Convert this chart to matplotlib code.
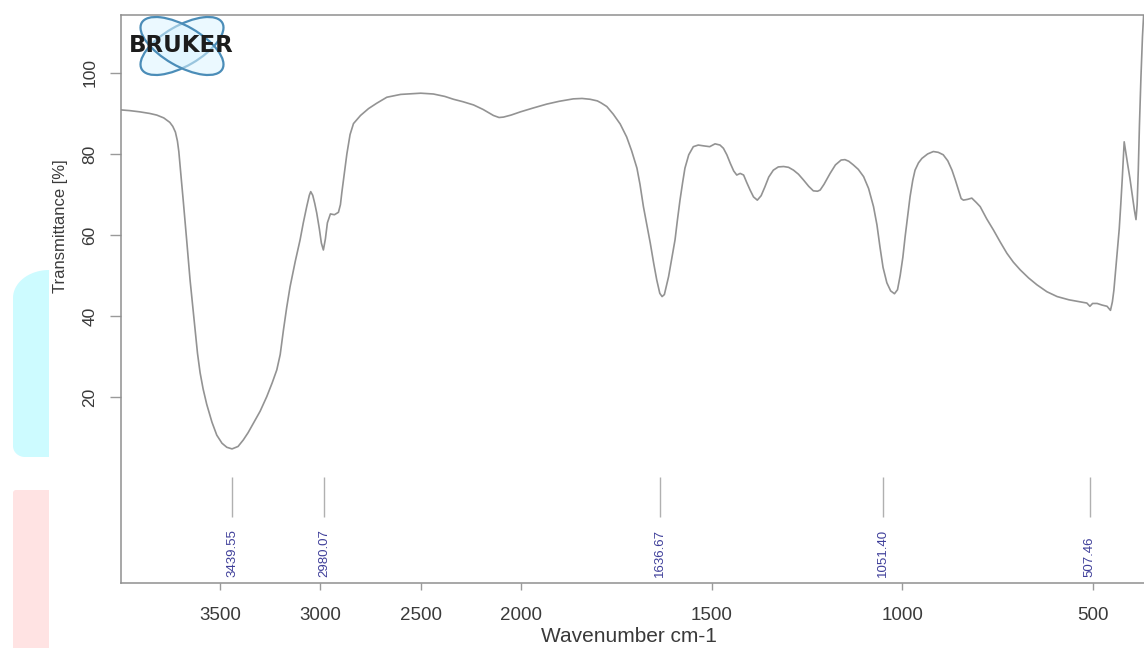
import numpy as np
import matplotlib
matplotlib.use("Agg")
import matplotlib.pyplot as plt
from matplotlib.patches import Ellipse, Polygon

# ---------------- data ----------------
wavenumber = [4000, 3950, 3900, 3850, 3815, 3780, 3750, 3735, 3722, 3712, 3705, 3699, 3692,
              3683, 3675, 3666, 3649, 3636, 3624, 3612, 3599, 3584, 3566, 3540, 3516,
              3490, 3466, 3440, 3410, 3384, 3360, 3334, 3300, 3267, 3240, 3217, 3200,
              3184, 3168, 3151, 3125, 3101, 3085, 3068, 3055, 3048, 3038, 3028, 3018,
              3005, 2995, 2985, 2975, 2965, 2950, 2930, 2910, 2900, 2893, 2880, 2868,
              2852, 2835, 2800, 2760, 2720, 2669, 2600, 2500, 2437, 2380, 2337, 2290,
              2237, 2190, 2138, 2110, 2088, 2050, 2003, 1970, 1933, 1900, 1863, 1840,
              1819, 1800, 1790, 1775, 1758, 1740, 1723, 1710, 1696, 1688, 1679, 1670,
              1661, 1652, 1644, 1636, 1630, 1624, 1613, 1605, 1596, 1590, 1583, 1576,
              1570, 1560, 1548, 1535, 1521, 1505, 1491, 1478, 1469, 1460, 1451, 1442,
              1434, 1425, 1416, 1408, 1399, 1390, 1380, 1370, 1360, 1350, 1338, 1325,
              1311, 1298, 1285, 1272, 1259, 1245, 1233, 1222, 1215, 1205, 1189, 1175,
              1160, 1150, 1140, 1128, 1115, 1101, 1088, 1075, 1066, 1058, 1050, 1040,
              1030, 1020, 1012, 1005, 998, 992, 985, 979, 972, 966, 957, 948,
              933, 918, 905, 892, 880, 869, 860, 852, 845, 839, 828, 817,
              805, 795, 778, 760, 742, 725, 708, 690, 668, 646, 620, 593,
              562, 532, 515, 507, 500, 488, 475, 462, 453, 448, 444, 437,
              430, 426, 422, 419, 417, 413, 408, 402, 396, 390, 386, 383,
              380, 377, 373, 369, 365]
transmittance = [90.9, 90.7, 90.4, 90.0, 89.6, 88.9, 87.8, 86.8, 85.4, 83.2, 80.6, 77.4, 73.4,
                 68.5, 63.8, 58.8, 48.9, 42.5, 36.5, 30.8, 26.0, 22.0, 18.2, 13.8, 10.6,
                 8.6, 7.6, 7.2, 7.8, 9.4, 11.2, 13.5, 16.5, 20.1, 23.5, 26.7, 30.5,
                 36.5, 42.0, 47.2, 53.5, 58.8, 63.0, 67.0, 69.8, 70.7, 69.8, 67.8, 65.4,
                 61.5, 58.0, 56.3, 59.0, 63.0, 65.2, 65.0, 65.6, 67.5, 70.5, 75.5, 80.0,
                 84.8, 87.5, 89.5, 91.2, 92.5, 94.0, 94.7, 95.0, 94.8, 94.2, 93.5, 92.9,
                 92.1, 91.0, 89.5, 89.0, 89.1, 89.6, 90.4, 91.3, 92.3, 93.0, 93.6, 93.7,
                 93.5, 93.1, 92.6, 91.7, 89.8, 87.4, 84.2, 80.8, 76.5, 72.5, 67.0, 62.5,
                 58.0, 53.0, 48.9, 45.6, 44.8, 45.3, 49.7, 54.0, 58.8, 63.5, 68.6, 73.0,
                 76.5, 79.8, 81.8, 82.2, 82.0, 81.8, 82.5, 82.2, 81.4, 79.8, 77.7, 75.8,
                 74.8, 75.2, 74.8, 73.0, 71.1, 69.4, 68.6, 69.7, 71.9, 74.3, 76.0, 76.8,
                 76.9, 76.7, 76.0, 75.0, 73.6, 72.0, 70.9, 70.8, 71.1, 72.5, 75.2, 77.3,
                 78.5, 78.6, 78.2, 77.3, 76.2, 74.4, 71.5, 67.0, 62.5, 57.0, 52.0, 48.2,
                 46.2, 45.5, 46.5, 50.0, 54.5, 59.6, 65.0, 69.5, 73.5, 76.0, 77.8, 78.9,
                 80.0, 80.6, 80.4, 79.8, 78.3, 76.0, 73.5, 71.1, 69.0, 68.6, 68.8, 69.1,
                 68.0, 67.0, 64.0, 61.2, 58.2, 55.5, 53.3, 51.4, 49.4, 47.7, 46.0, 44.8,
                 44.0, 43.5, 43.2, 42.4, 43.1, 43.1, 42.7, 42.4, 41.4, 43.5, 46.4, 54.0,
                 61.5, 67.5, 74.0, 79.5, 83.0, 80.5, 77.5, 74.0, 70.0, 66.0, 63.8, 67.5,
                 76.0, 87.0, 99.0, 109.0, 116.0]
peak_positions = [3439.55, 2980.07, 1636.67, 1051.40, 507.46]
x_ticks = [3500, 3000, 2500, 2000, 1500, 1000, 500]
y_ticks = [20, 40, 60, 80, 100]

# Bruker-style axis: region above 2000 cm-1 compressed
R = 0.527


def fwd(w):
    w = np.asarray(w, dtype=float)
    return np.where(w > 2000, 2000 + (w - 2000) * R, w)


def inv(u):
    u = np.asarray(u, dtype=float)
    return np.where(u > 2000, 2000 + (u - 2000) / R, u)


plt.rcParams['font.family'] = ['Liberation Sans', 'DejaVu Sans']

W, H = 1144, 648
fig = plt.figure(figsize=(W / 100, H / 100), dpi=100)
fig.patch.set_facecolor('white')
ax = fig.add_axes([121 / W, 1 - 583 / H, (W - 121) / W, 568 / H])
ax.set_xscale('function', functions=(fwd, inv))

ax.plot(wavenumber, transmittance, color='#939393', lw=1.2)
ax.set_xlim(3993, 365)
ax.set_ylim(-25.9, 114.3)

# peak markers
ax.vlines(peak_positions, -9.6, 0.2, color='#b0b0b0', lw=1.0)
for p in peak_positions:
    ax.text(p, -24.4, f"{p:.2f}", rotation=90, ha='center', va='bottom',
            fontsize=9.5, color='#3f3f9a')

ax.set_xticks(x_ticks)
ax.set_xticklabels([str(t) for t in x_ticks])
ax.set_yticks(y_ticks)
ax.set_yticklabels([str(t) for t in y_ticks])
ax.minorticks_off()
ax.tick_params(axis='x', length=5, width=1, color='#9a9a9a', pad=12,
               labelsize=13.5, labelcolor='#3a3a3a')
ax.tick_params(axis='y', length=8, width=1, color='#9a9a9a', pad=9,
               labelsize=12.5, labelcolor='#3a3a3a')
for lbl in ax.get_yticklabels():
    lbl.set_rotation(90)
    lbl.set_verticalalignment('center')

for s in ['left', 'top', 'bottom']:
    ax.spines[s].set_color('#8f8f8f')
    ax.spines[s].set_linewidth(1.1)
ax.spines['right'].set_visible(False)

ax.set_xlabel('Wavenumber cm-1', fontsize=15, color='#3a3a3a')
ax.xaxis.set_label_coords((629 - 121) / (W - 121), (583 - 636) / 568)
ax.xaxis.label.set_verticalalignment('center')
ax.set_ylabel('Transmittance [%]', fontsize=12, color='#3a3a3a')
ax.yaxis.set_label_coords((60 - 121) / (W - 121), (583 - 226.5) / 568)
ax.yaxis.label.set_verticalalignment('center')

# ---------------- decorations (pixel coords, y from top) ----------------
tr = fig.dpi_scale_trans


def left_rounded(x0, x1, ytop, ybot, rtx, rty, rbx, rby):
    pts = [(x1, ytop), (x1, ybot)]
    cx, cy = x0 + rbx, ybot - rby
    for t in np.linspace(np.pi / 2, np.pi, 20):
        pts.append((cx + rbx * np.cos(t), cy + rby * np.sin(t)))
    cx, cy = x0 + rtx, ytop + rty
    for t in np.linspace(np.pi, 1.5 * np.pi, 20):
        pts.append((cx + rtx * np.cos(t), cy + rty * np.sin(t)))
    return [(x / 100, (H - y) / 100) for x, y in pts]


fig.add_artist(Polygon(left_rounded(13, 49, 270, 457, 36, 28, 12, 11),
                       closed=True, transform=tr, fc='#cdfbff', ec='none', zorder=0.5))
fig.add_artist(Polygon(left_rounded(13, 49, 490, 652, 3, 3, 0.1, 0.1),
                       closed=True, transform=tr, fc='#ffe3e3', ec='none', zorder=0.5))

# Bruker logo
for ang in (30, -30):
    fig.add_artist(Ellipse((182 / 100, (H - 46) / 100), 93 / 100, 40 / 100, angle=ang,
                           transform=tr, fc=(0.86, 0.96, 1.0, 0.55), ec='#4b8db8', lw=1.6))
fig.text(181 / W, 1 - 46 / H, 'BRUKER', ha='center', va='center', fontsize=16.5,
         fontweight='bold', family='DejaVu Sans', color='#1c1c1c')

fig.savefig('out.png', dpi=100)
